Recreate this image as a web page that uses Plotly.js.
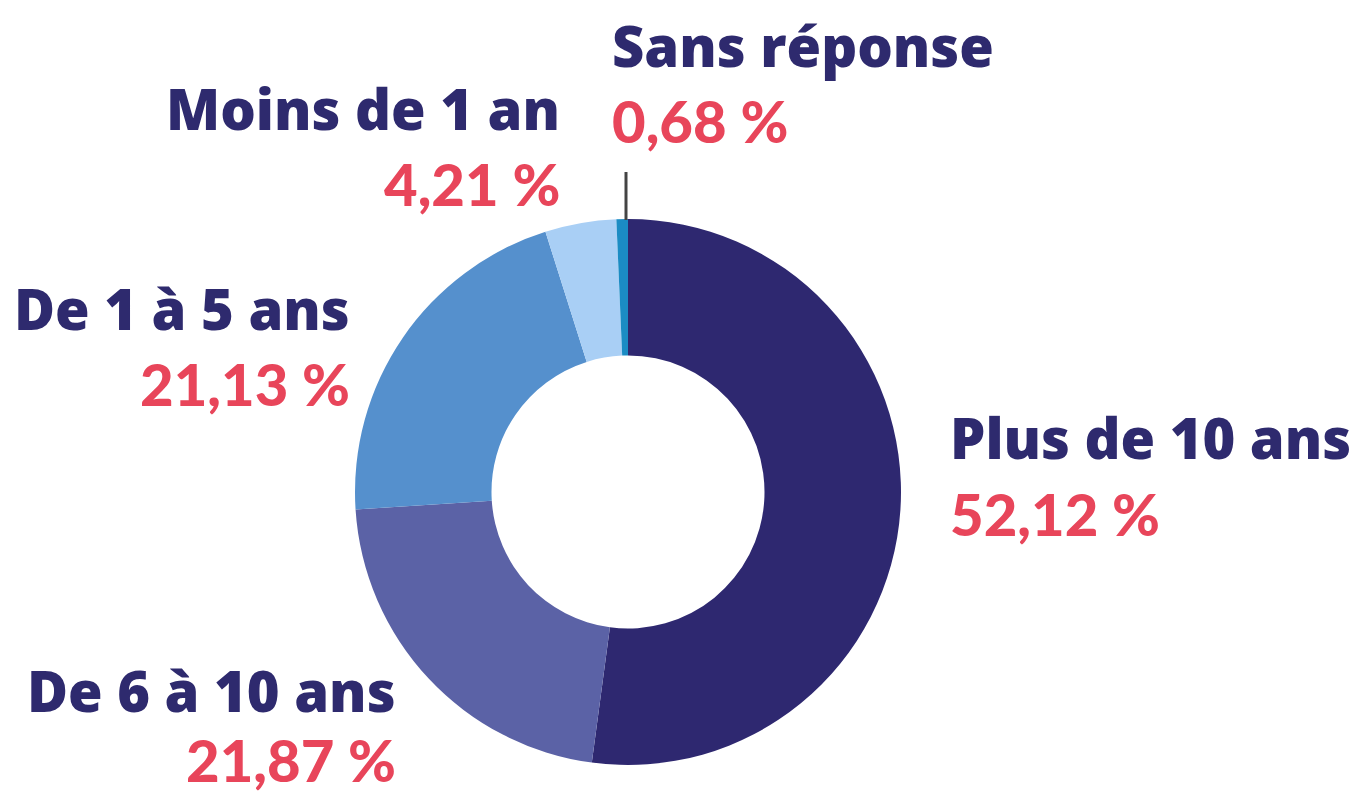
<!DOCTYPE html>
<html>
<head>
<meta charset="utf-8">
<script src="https://cdn.plot.ly/plotly-3.0.1.min.js"></script>
<style>
  html, body { margin: 0; padding: 0; background: #ffffff; }
  #graf { width: 1364px; height: 793px; }
</style>
</head>
<body>
<div id="graf"></div>
<script>
// ---------------------------------------------------------------------
// DONNEES
// ---------------------------------------------------------------------
const categories = ["Plus de 10 ans", "De 6 à 10 ans", "De 1 à 5 ans", "Moins de 1 an", "Sans réponse"];
const valeurs = [52.12, 21.87, 21.13, 4.21, 0.68];
const etiquettesPct = ["52,12 %", "21,87 %", "21,13 %", "4,21 %", "0,68 %"];
const couleurs = ["#2e2870", "#5b62a6", "#5590cd", "#a9cff5", "#1b8cc4"];

const BLEU = "#2e2a6e";
const ROUGE = "#e8455a";
const W = 1364, H = 793;

// position (px) des etiquettes : [x, y du nom, y du pourcentage, ancrage]
const placement = [
  [948, 437, 513, "left"],
  [398, 690, 759, "right"],
  [352, 308, 383, "right"],
  [562, 108, 183, "right"],
  [610, 45, 120, "left"],
];

const annotations = [];
categories.forEach((nom, i) => {
  const [px, yNom, yPct, ancre] = placement[i];
  annotations.push({
    xref: "paper", yref: "paper", x: px / W, y: 1 - yNom / H,
    xanchor: ancre, yanchor: "middle", showarrow: false,
    text: nom,
    font: { family: "Open Sans", size: 56, color: BLEU, weight: 800 },
  });
  annotations.push({
    xref: "paper", yref: "paper", x: px / W, y: 1 - yPct / H,
    xanchor: ancre, yanchor: "middle", showarrow: false,
    text: etiquettesPct[i],
    font: { family: "Lato", size: 58, color: ROUGE, weight: 900 },
  });
});

const trace = {
  type: "pie",
  labels: categories,
  values: valeurs,
  sort: false,
  direction: "clockwise",
  rotation: 0,
  hole: 0.5,
  textinfo: "none",
  marker: { colors: couleurs, line: { width: 0 } },
  domain: { x: [(628 - 273) / W, (628 + 273) / W], y: [(301 - 273) / H, (301 + 273) / H] },
};

Plotly.newPlot("graf", [trace], {
  width: W, height: H,
  margin: { l: 0, r: 0, t: 0, b: 0 },
  paper_bgcolor: "#ffffff",
  showlegend: false,
  annotations: annotations,
  shapes: [{
    type: "line", xref: "paper", yref: "paper",
    x0: 626 / W, x1: 626 / W, y0: 1 - 172 / H, y1: 1 - 220 / H,
    line: { color: "#444444", width: 3 },
  }],
}, { staticPlot: true });
</script>
</body>
</html>
